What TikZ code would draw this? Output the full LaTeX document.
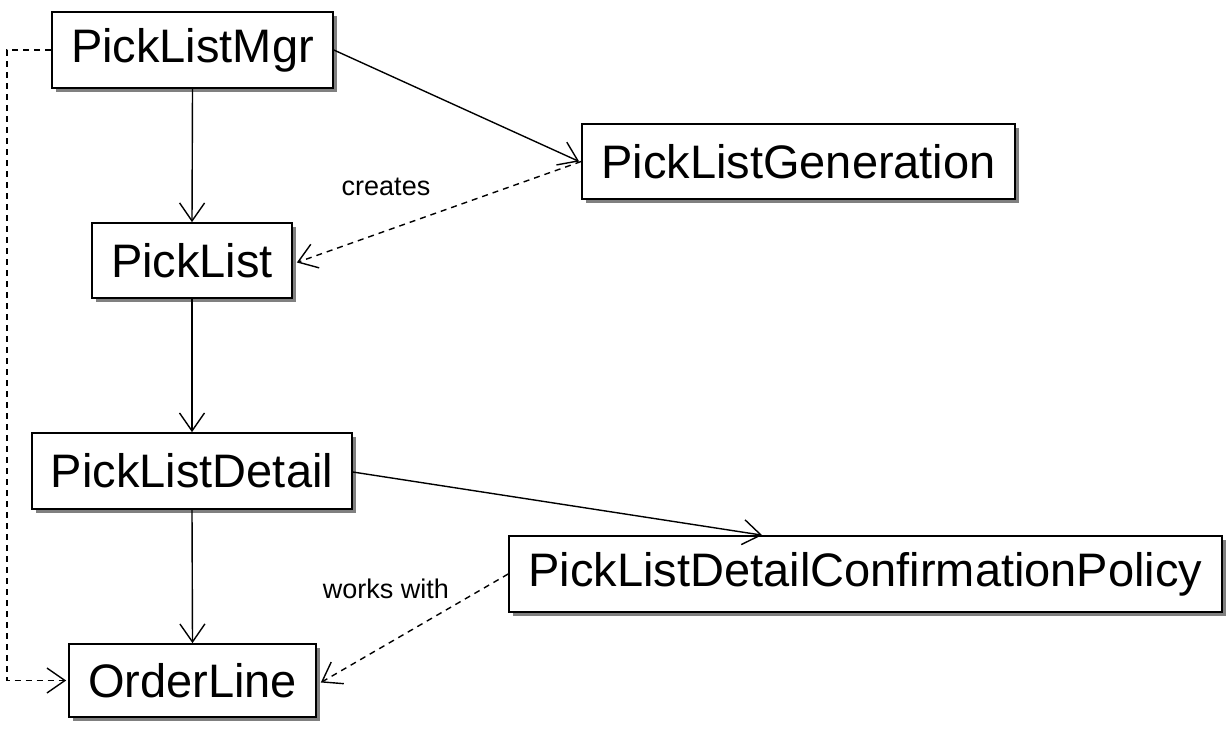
\documentclass[tikz,border=0pt]{standalone}
\usepackage{fontspec}
\setmainfont{Liberation Sans}
\usetikzlibrary{arrows.meta,shadows,calc}
\begin{document}
\begin{tikzpicture}[x=1pt,y=-1pt,
  cls/.style={draw=black,line width=1.7pt,fill=white,inner sep=0pt,
    font=\fontsize{47}{56}\selectfont,
    drop shadow={shadow xshift=4pt,shadow yshift=-4pt,fill=black!50,opacity=1}},
  lbl/.style={font=\fontsize{27}{32}\selectfont,inner sep=0pt},
  conn/.style={line width=1.4pt,-{Straight Barb[length=18pt,width=25pt,line width=1.4pt]}},
  dep/.style={conn,dash pattern=on 6pt off 5pt}]
\useasboundingbox (0,0) rectangle (1231,731);
\node[cls,minimum width=281pt,minimum height=76pt] (mgr) at (192.5,50) {PickListMgr};
\node[cls,minimum width=433pt,minimum height=75pt] (gen) at (798.5,161.5) {PickListGeneration};
\node[cls,minimum width=200pt,minimum height=75pt] (pl) at (192,260.5) {PickList};
\node[cls,minimum width=320pt,minimum height=76pt] (pld) at (192,471) {PickListDetail};
\node[cls,minimum width=713pt,minimum height=76pt] (pol) at (865.5,574) {PickListDetailConfirmationPolicy};
\node[cls,minimum width=247pt,minimum height=73pt] (ol) at (192.5,680.5) {OrderLine};
\node[lbl] (creates) at (386,187) {creates};
\node[lbl] (works) at (386,589) {works with};
\draw[conn] (mgr.east) -- ([xshift=-2pt]gen.west);
\draw[conn] (mgr.south) -- (pl.north);
\draw[dep] (gen.west) -- ([xshift=4pt,yshift=-2pt]pl.east);
\draw[conn] (pl.south) -- (pld.north);
\draw[conn] ([yshift=-1pt]pld.east) -- ([xshift=254pt]pol.north west);
\draw[conn] (pld.south) -- (ol.north);
\draw[dep] (pol.west) -- ([xshift=4pt,yshift=-2pt]ol.east);
\draw[dep] (mgr.west) -- ++(-44,0) |- ([xshift=-2pt]ol.west);
\end{tikzpicture}
\end{document}
